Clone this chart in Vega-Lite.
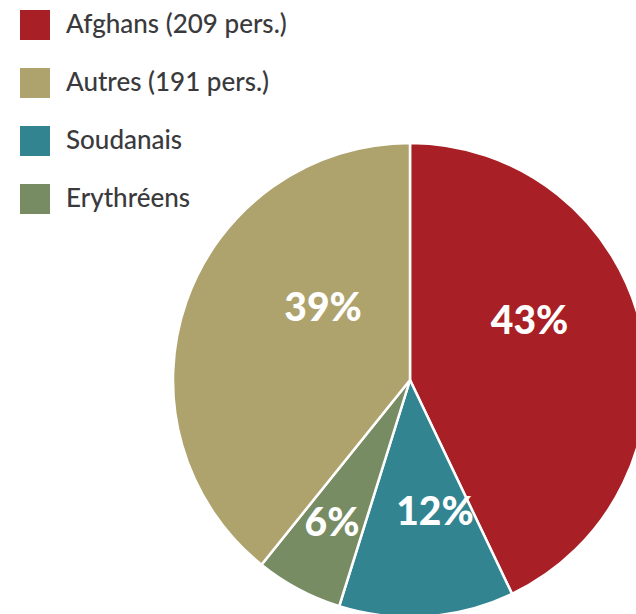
{
  "$schema": "https://vega.github.io/schema/vega-lite/v6.json",
  "width": 452,
  "height": 468,
  "autosize": {"type": "none"},
  "padding": {"left": 184, "top": 146, "right": 0, "bottom": 0},
  "background": "white",
  "config": {"view": {"stroke": null}},
  "data": {"values": [
    {"groupe": "Afghans (209 pers.)", "personnes": 209, "ordre": 1, "label": "43%"},
    {"groupe": "Soudanais", "personnes": 58, "ordre": 2, "label": "12%"},
    {"groupe": "Erythréens", "personnes": 29, "ordre": 3, "label": "6%"},
    {"groupe": "Autres (191 pers.)", "personnes": 191, "ordre": 4, "label": "39%"}
  ]},
  "encoding": {
    "theta": {"field": "personnes", "type": "quantitative", "stack": true},
    "order": {"field": "ordre", "type": "quantitative"}
  },
  "layer": [
    {
      "mark": {"type": "arc", "outerRadius": 237, "stroke": "white", "strokeWidth": 2.5},
      "encoding": {
        "color": {
          "field": "groupe",
          "type": "nominal",
          "scale": {
            "domain": ["Afghans (209 pers.)", "Autres (191 pers.)", "Soudanais", "Erythréens"],
            "range": ["#A91F26", "#AFA36D", "#318490", "#788C64"]
          },
          "legend": {
            "title": null,
            "orient": "none",
            "legendX": -164,
            "legendY": -136,
            "padding": 0,
            "symbolType": "square",
            "symbolSize": 900,
            "symbolStrokeWidth": 0,
            "labelFont": "Lato",
            "labelFontSize": 26,
            "labelFontWeight": 500,
            "labelColor": "#3a3a3d",
            "labelOffset": 16,
            "rowPadding": 28,
            "labelLimit": 400
          }
        }
      }
    },
    {
      "mark": {"type": "text", "radius": 133, "thetaOffset": -0.23, "font": "Lato", "fontSize": 39, "fontWeight": 900, "color": "white", "align": "center", "baseline": "middle"},
      "encoding": {"text": {"condition": {"test": "datum.ordre == 1", "field": "label"}, "value": ""}}
    },
    {
      "mark": {"type": "text", "radius": 135, "thetaOffset": -0.115, "font": "Lato", "fontSize": 39, "fontWeight": 900, "color": "white", "align": "center", "baseline": "middle"},
      "encoding": {"text": {"condition": {"test": "datum.ordre == 2", "field": "label"}, "value": ""}}
    },
    {
      "mark": {"type": "text", "radius": 164, "thetaOffset": 0.005, "font": "Lato", "fontSize": 39, "fontWeight": 900, "color": "white", "align": "center", "baseline": "middle"},
      "encoding": {"text": {"condition": {"test": "datum.ordre == 3", "field": "label"}, "value": ""}}
    },
    {
      "mark": {"type": "text", "radius": 112, "thetaOffset": 0.344, "font": "Lato", "fontSize": 39, "fontWeight": 900, "color": "white", "align": "center", "baseline": "middle"},
      "encoding": {"text": {"condition": {"test": "datum.ordre == 4", "field": "label"}, "value": ""}}
    }
  ]
}
